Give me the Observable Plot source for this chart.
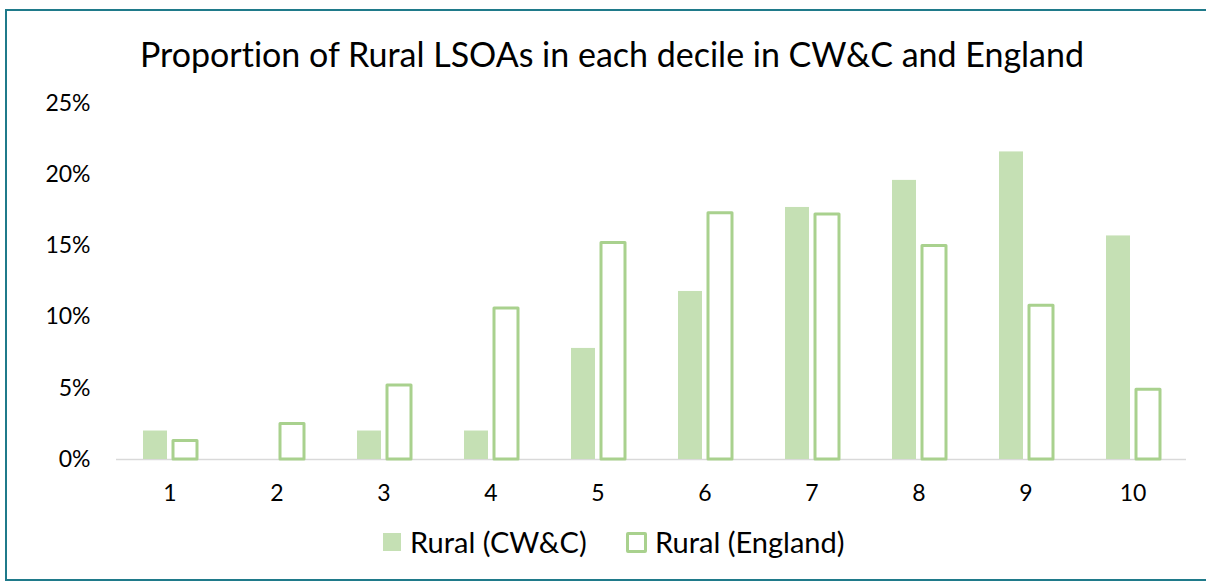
<!DOCTYPE html>
<html>
<head>
<meta charset="utf-8">
<script src="https://cdn.jsdelivr.net/npm/d3@7"></script>
<script src="https://cdn.jsdelivr.net/npm/@observablehq/plot@0.6"></script>
<style>
  html, body { margin: 0; padding: 0; background: #fff; }
  #wrap { position: relative; width: 1206px; height: 585px; overflow: hidden; font-family: Lato, "Open Sans", sans-serif; color: #000; font-variant-ligatures: none; }
  #frame { position: absolute; left: 5px; top: 9px; width: 1220px; height: 572px; border: 2px solid #1f7a8a; border-right: none; box-sizing: border-box; }
  #title { position: absolute; left: 0; width: 1224px; top: 34px; text-align: center; font-size: 34px; line-height: 40px; white-space: nowrap; }
  #chart { position: absolute; left: 0; top: 80px; }
  .leg { position: absolute; top: 524px; font-size: 29px; line-height: 36px; display: flex; align-items: center; white-space: nowrap; }
  .sw { display: inline-block; box-sizing: border-box; margin-right: 9px; }
</style>
</head>
<body>
<div id="wrap">
  <div id="frame"></div>
  <div id="title">Proportion of Rural LSOAs in each decile in CW&amp;C and England</div>
  <div id="chart"></div>
  <div class="leg" id="leg0" style="left:383px"><span class="sw" style="width:18px;height:18px;background:#c5e0b4"></span><span id="lt0"></span></div>
  <div class="leg" id="leg1" style="left:626px"><span class="sw" style="width:21px;height:21px;background:#fff;border:3px solid #a9d18e;border-radius:2px;margin-right:8px"></span><span id="lt1"></span></div>
</div>
<script>
const deciles = ["1", "2", "3", "4", "5", "6", "7", "8", "9", "10"];
const seriesNames = ["Rural (CW&C)", "Rural (England)"];
const cwcValues = [2.0, 0, 2.0, 2.0, 7.8, 11.8, 17.7, 19.6, 21.6, 15.7];
const englandValues = [1.3, 2.5, 5.2, 10.6, 15.2, 17.3, 17.2, 15.0, 10.8, 4.9];
const yTicks = [0, 5, 10, 15, 20, 25];

const cwcData = deciles.map((d, i) => ({decile: d, series: seriesNames[0], value: cwcValues[i] / 100}));
const engData = deciles.map((d, i) => ({decile: d, series: seriesNames[1], value: englandValues[i] / 100}));

document.getElementById("lt0").textContent = seriesNames[0];
document.getElementById("lt1").textContent = seriesNames[1];

const chart = Plot.plot({
  width: 1206,
  height: 430,
  marginLeft: 115,
  marginRight: 19,
  marginTop: 23,
  marginBottom: 51,
  style: {fontFamily: "Lato, 'Open Sans', sans-serif", fontSize: "23px", color: "#000", background: "transparent", overflow: "visible"},
  fx: {domain: deciles, padding: 0, label: null, axis: "bottom", tickSize: 0, tickPadding: 25},
  x: {domain: seriesNames, paddingInner: 0.213, paddingOuter: 0.864, axis: null},
  y: {domain: [0, 0.25], ticks: yTicks.map(v => v / 100), tickFormat: d3.format(".0%"), tickSize: 0, tickPadding: 26, label: null},
  marks: [
    Plot.ruleY([0], {stroke: "#d9d9d9", strokeWidth: 1.5}),
    Plot.barY(cwcData, {fx: "decile", x: "series", y: "value", fill: "#c5e0b4"}),
    Plot.barY(engData, {fx: "decile", x: "series", y: "value", fill: "white", stroke: "#a9d18e", strokeWidth: 3, strokeLinejoin: "round"})
  ]
});
document.getElementById("chart").appendChild(chart);
</script>
</body>
</html>
